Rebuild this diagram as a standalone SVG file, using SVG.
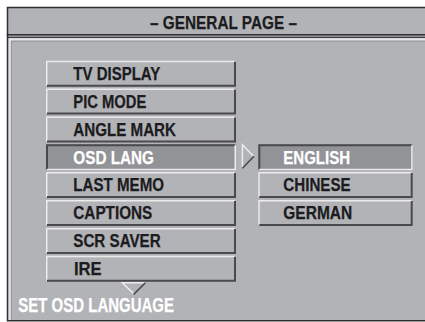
<svg xmlns="http://www.w3.org/2000/svg" width="425" height="322" viewBox="0 0 425 322">
<style>
.bg{fill:#b2b3b7}
.sel{fill:#929397}
.lt{fill:none;stroke:#ececec;stroke-width:1.5}
.dk{fill:none;stroke:#4a4a4d;stroke-width:2}
.frame{fill:none;stroke:#2e2e30;stroke-width:1.5}
.t{font-family:"Liberation Sans",Arial,sans-serif;font-weight:bold;font-size:18.5px;fill:#1c1c1e;stroke:#1c1c1e;stroke-width:0.25}
.tw{font-family:"Liberation Sans",Arial,sans-serif;font-weight:bold;font-size:18.5px;fill:#ffffff;stroke:#ffffff;stroke-width:0.25}
</style>
<defs>
<g id="btnL">
<rect x="0" y="0" width="190" height="26" class="bg"/>
<path class="lt" d="M0.75,25 V0.75 H189"/>
<path class="dk" d="M1,25 H189 V1"/>
</g>
<g id="btnLsel">
<rect x="0" y="0" width="190" height="26" class="sel"/>
<path class="dk" d="M1,25 V1 H189"/>
<path class="lt" d="M1,25.25 H189.25 V1"/>
</g>
<g id="btnR">
<rect x="0" y="0" width="154.4" height="26" class="bg"/>
<path class="lt" d="M0.75,25 V0.75 H153.4"/>
<path class="dk" d="M1,25 H153.4 V1"/>
</g>
<g id="btnRsel">
<rect x="0" y="0" width="154.4" height="26" class="sel"/>
<path class="dk" d="M1,25 V1 H153.4"/>
<path class="lt" d="M1,25.25 H153.65 V1"/>
</g>
</defs>
<rect x="0" y="0" width="425" height="322" fill="#ffffff"/>
<g id="frame">
<rect x="7.5" y="7.5" width="420" height="313" class="bg"/>
<rect x="7.5" y="7.5" width="420" height="27.3" class="bg" stroke="#2e2e30" stroke-width="1.5"/>
<path d="M7,37.4 H425" stroke="#3c3c3e" stroke-width="1.2" fill="none"/>
<path d="M9.6,320 V39.4 H425" stroke="#e6e6e8" stroke-width="2.4" fill="none"/>
<path d="M11.4,320 V41.2 H425" stroke="#8e8f93" stroke-width="0.8" fill="none"/>
<path d="M7.5,34 V320.8 H425" class="frame"/>
</g>
<g id="title">
<text x="150" y="28.5" textLength="147" lengthAdjust="spacingAndGlyphs" class="t" style="font-size:17.5px">– GENERAL PAGE –</text>
</g>
<g id="item-tv-display"><use href="#btnL" x="46" y="60.7"/><text x="73.3" y="80" textLength="87" lengthAdjust="spacingAndGlyphs" class="t">TV DISPLAY</text></g>
<g id="item-pic-mode"><use href="#btnL" x="46" y="88.6"/><text x="73.3" y="107.9" textLength="73" lengthAdjust="spacingAndGlyphs" class="t">PIC MODE</text></g>
<g id="item-angle-mark"><use href="#btnL" x="46" y="116.4"/><text x="73.3" y="135.7" textLength="102.7" lengthAdjust="spacingAndGlyphs" class="t">ANGLE MARK</text></g>
<g id="item-osd-lang"><use href="#btnLsel" x="46" y="144.3"/><text x="73.3" y="163.6" textLength="80.7" lengthAdjust="spacingAndGlyphs" class="tw">OSD LANG</text></g>
<g id="item-last-memo"><use href="#btnL" x="46" y="172.1"/><text x="73.3" y="191.4" textLength="90.7" lengthAdjust="spacingAndGlyphs" class="t">LAST MEMO</text></g>
<g id="item-captions"><use href="#btnL" x="46" y="200"/><text x="73.3" y="219.3" textLength="79" lengthAdjust="spacingAndGlyphs" class="t">CAPTIONS</text></g>
<g id="item-scr-saver"><use href="#btnL" x="46" y="227.9"/><text x="73.3" y="247.2" textLength="87.4" lengthAdjust="spacingAndGlyphs" class="t">SCR SAVER</text></g>
<g id="item-ire"><use href="#btnL" x="46" y="255.7"/><text x="74" y="275" textLength="27.7" lengthAdjust="spacingAndGlyphs" class="t">IRE</text></g>
<g id="opt-english"><use href="#btnRsel" x="258.3" y="144.3"/><text x="283.3" y="163.6" textLength="66.7" lengthAdjust="spacingAndGlyphs" class="tw">ENGLISH</text></g>
<g id="opt-chinese"><use href="#btnR" x="258.3" y="172.1"/><text x="283.3" y="191.4" textLength="67.4" lengthAdjust="spacingAndGlyphs" class="t">CHINESE</text></g>
<g id="opt-german"><use href="#btnR" x="258.3" y="200"/><text x="283.3" y="219.3" textLength="69" lengthAdjust="spacingAndGlyphs" class="t">GERMAN</text></g>
<g id="connectors">
<path class="lt" d="M242.4,167.6 V144.8 L253.6,156.2"/>
<path d="M254,156.2 L242.4,168.2" stroke="#4a4a4d" stroke-width="1.6" fill="none"/>
<path class="lt" d="M133.7,293.6 L122.2,282.8 H145.2"/>
<path d="M145.4,282.8 L133.7,294.4" stroke="#4a4a4d" stroke-width="1.6" fill="none"/>
</g>
<g id="status">
<text x="18.3" y="312.3" textLength="155.7" lengthAdjust="spacingAndGlyphs" class="tw" style="font-size:19.5px">SET OSD LANGUAGE</text>
</g>
</svg>
